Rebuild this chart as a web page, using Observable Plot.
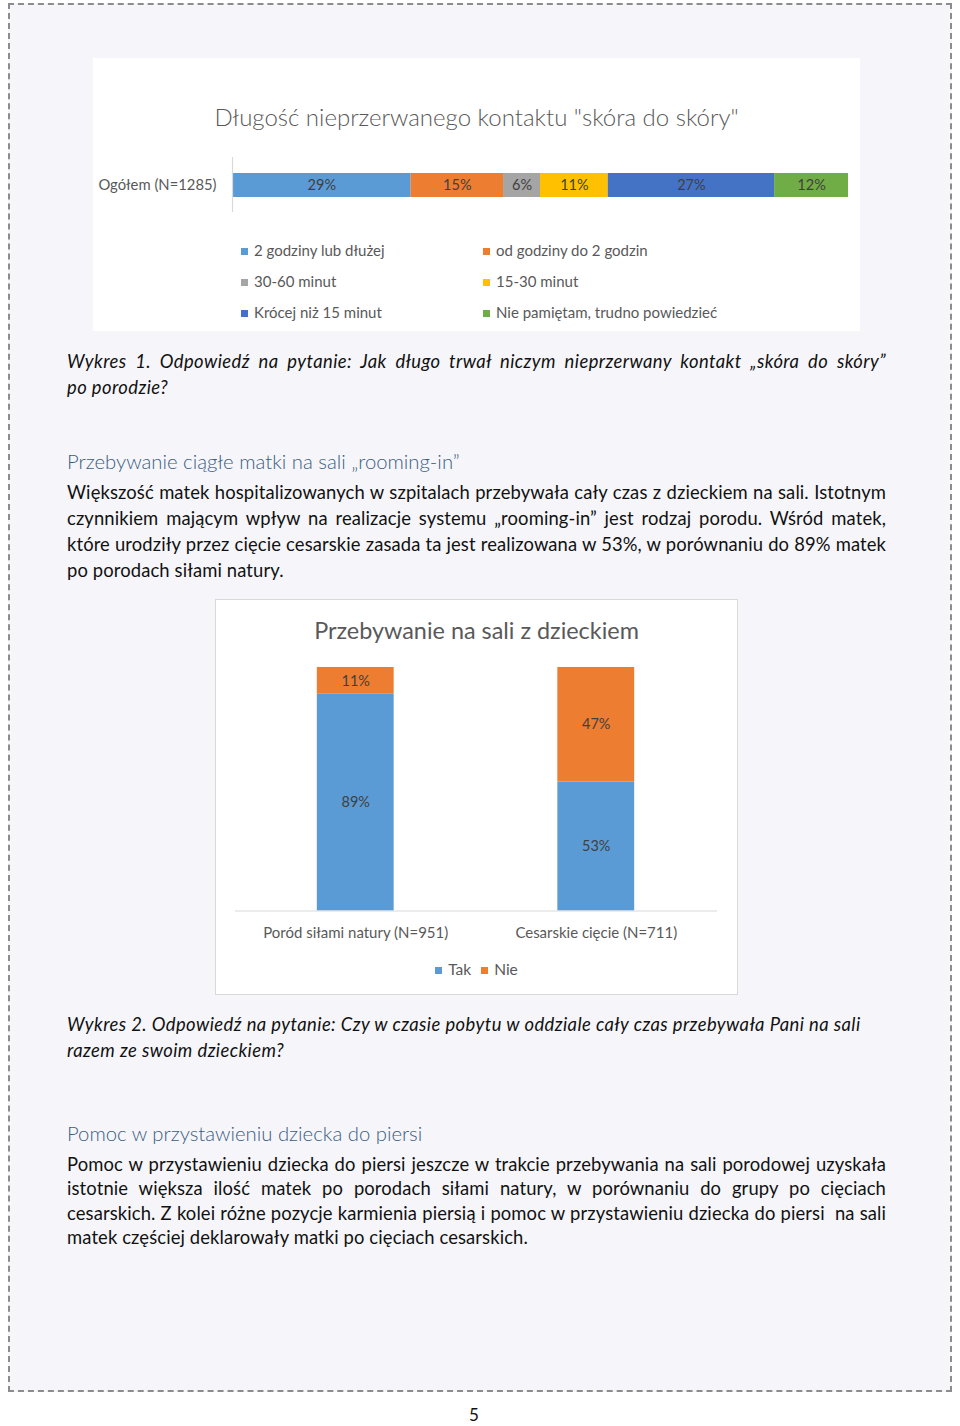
<!DOCTYPE html>
<html lang="pl">
<head>
<meta charset="utf-8">
<script src="https://cdn.jsdelivr.net/npm/d3@7"></script>
<script src="https://cdn.jsdelivr.net/npm/@observablehq/plot@0.6"></script>
<style>
  html, body { margin: 0; padding: 0; background: #ffffff; }
  #page { position: relative; width: 960px; height: 1426px; overflow: hidden; font-family: Lato, "Open Sans", sans-serif; }
  #frame { position: absolute; left: 8px; top: 3px; width: 940px; height: 1385px; border: 2px dashed #8c8c8c; background: #f6f6fa; }
  .box { position: absolute; background: #ffffff; }
  .title { position: absolute; left: 0; right: 0; text-align: center; color: #595959; white-space: nowrap; }
  .text { position: absolute; left: 67px; width: 819px; color: #111111; font-size: 18.4px; letter-spacing: 0.12px; }
  .text div { white-space: nowrap; text-align: justify; text-align-last: justify; }
  .text div.last { text-align-last: left; }
  .text.italic { font-style: italic; letter-spacing: 0.42px; }
  .heading { position: absolute; left: 67px; color: #3a5d82; font-size: 20.3px; font-weight: 300; white-space: nowrap; }
  .legend { position: absolute; color: #595959; font-size: 15px; white-space: nowrap; }
  .legend .sw { display: inline-block; width: 7px; height: 7px; margin-right: 6px; vertical-align: 1px; }
  #pagenum { position: absolute; left: 0; width: 948px; top: 1404px; text-align: center; font-size: 17px; color: #111; }
</style>
</head>
<body>
<div id="page">
  <div id="frame"></div>

  <div class="box" id="chart1" style="left:93px; top:58px; width:767px; height:273px;">
    <div class="title" id="title1" style="top:44px; font-size:24px; font-weight:300;"></div>
    <div id="plot1" style="position:absolute; left:0; top:89px;"></div>
    <div id="legend1"></div>
  </div>

  <div class="text italic" style="top:348px; line-height:26px;">
    <div>Wykres 1. Odpowiedź na pytanie: Jak długo trwał niczym nieprzerwany kontakt „skóra do skóry”</div>
    <div class="last">po porodzie?</div>
  </div>

  <div class="heading" style="top:448px; line-height:26px;">Przebywanie ciągłe matki na sali „rooming-in”</div>

  <div class="text" style="top:479px; line-height:26px;">
    <div>Większość matek hospitalizowanych w szpitalach przebywała cały czas z dzieckiem na sali. Istotnym</div>
    <div>czynnikiem mającym wpływ na realizacje systemu „rooming-in” jest rodzaj porodu. Wśród matek,</div>
    <div>które urodziły przez cięcie cesarskie zasada ta jest realizowana w 53%, w porównaniu do 89% matek</div>
    <div class="last">po porodach siłami natury.</div>
  </div>

  <div class="box" id="chart2" style="left:215px; top:599px; width:521px; height:394px; border:1px solid #d9d9d9;">
    <div class="title" id="title2" style="top:16px; font-size:23.4px;"></div>
    <div id="plot2" style="position:absolute; left:-1px; top:55px;"></div>
    <div id="legend2"></div>
  </div>

  <div class="text italic" style="top:1011px; line-height:26px;">
    <div class="last">Wykres 2. Odpowiedź na pytanie: Czy w czasie pobytu w oddziale cały czas przebywała Pani na sali</div>
    <div class="last">razem ze swoim dzieckiem?</div>
  </div>

  <div class="heading" style="top:1120px; line-height:26px;">Pomoc w przystawieniu dziecka do piersi</div>

  <div class="text" style="top:1152px; line-height:24.4px;">
    <div>Pomoc w przystawieniu dziecka do piersi jeszcze w trakcie przebywania na sali porodowej uzyskała</div>
    <div>istotnie większa ilość matek po porodach siłami natury, w porównaniu do grupy po cięciach</div>
    <div>cesarskich. Z kolei różne pozycje karmienia piersią i pomoc w przystawieniu dziecka do piersi&nbsp; na sali</div>
    <div class="last">matek częściej deklarowały matki po cięciach cesarskich.</div>
  </div>

  <div id="pagenum">5</div>
</div>

<script>
// ---------- Data ----------
const chart1Title = "Długość nieprzerwanego kontaktu \"skóra do skóry\"";
const chart1Category = "Ogółem (N=1285)";
const chart1Series = [
  "2 godziny lub dłużej",
  "od godziny do 2 godzin",
  "30-60 minut",
  "15-30 minut",
  "Krócej niż 15 minut",
  "Nie pamiętam, trudno powiedzieć"
];
const chart1Values = [29, 15, 6, 11, 27, 12];

const chart2Title = "Przebywanie na sali z dzieckiem";
const chart2Categories = ["Poród siłami natury (N=951)", "Cesarskie cięcie (N=711)"];
const chart2Series = ["Tak", "Nie"];
const chart2Tak = [89, 53];
const chart2Nie = [11, 47];

// ---------- Styles ----------
const palette1 = ["#5b9bd5", "#ed7d31", "#a5a5a5", "#ffc000", "#4472c4", "#70ad47"];
const palette2 = ["#5b9bd5", "#ed7d31"];
const fontFamily = "Lato, 'Open Sans', sans-serif";

// ---------- Chart 1 ----------
document.getElementById("title1").textContent = chart1Title;
const rows1 = chart1Series.map((s, i) => ({cat: chart1Category, series: s, value: chart1Values[i]}));

const plot1 = Plot.plot({
  width: 767,
  height: 75,
  marginLeft: 139,
  marginRight: 12,
  marginTop: 10,
  marginBottom: 10,
  style: {fontFamily, fontSize: "14.8px", background: "transparent"},
  x: {domain: [0, 100], axis: null},
  y: {domain: [chart1Category], padding: 0.39, label: null},
  color: {domain: chart1Series, range: palette1},
  marks: [
    Plot.barX(rows1, Plot.stackX({x: "value", y: "cat", fill: "series", order: null})),
    Plot.text(rows1, Plot.stackX({x: "value", y: "cat", z: "series", order: null, text: d => d.value + "%", fill: "#404040", fontSize: 14.5})),
    Plot.ruleX([0], {stroke: "#d9d9d9", strokeWidth: 1.2}),
    Plot.axisY({tickSize: 0, tickPadding: 16, color: "#595959", fontSize: 14.8, label: null})
  ]
});
document.getElementById("plot1").appendChild(plot1);

// legend 1 (two columns, three rows)
const legend1 = document.getElementById("legend1");
chart1Series.forEach((s, i) => {
  const col = i % 2, row = Math.floor(i / 2);
  const item = document.createElement("div");
  item.className = "legend";
  item.style.left = (col === 0 ? 148 : 390) + "px";
  item.style.top = (183 + row * 31) + "px";
  item.innerHTML = `<span class="sw" style="background:${palette1[i]}"></span>`;
  item.appendChild(document.createTextNode(s));
  legend1.appendChild(item);
});

// ---------- Chart 2 ----------
document.getElementById("title2").textContent = chart2Title;
const rows2 = [];
chart2Categories.forEach((c, i) => {
  rows2.push({cat: c, series: chart2Series[0], value: chart2Tak[i]});
  rows2.push({cat: c, series: chart2Series[1], value: chart2Nie[i]});
});

const plot2 = Plot.plot({
  width: 523,
  height: 295,
  marginLeft: 20,
  marginRight: 20,
  marginTop: 12,
  marginBottom: 39,
  style: {fontFamily, fontSize: "15px", background: "transparent"},
  x: {domain: chart2Categories, paddingInner: 0.68, paddingOuter: 0.34, label: null},
  y: {domain: [0, 100], axis: null},
  color: {domain: chart2Series, range: palette2},
  marks: [
    Plot.barY(rows2, Plot.stackY({x: "cat", y: "value", fill: "series", order: null})),
    Plot.text(rows2, Plot.stackY({x: "cat", y: "value", z: "series", order: null, text: d => d.value + "%", fill: "#404040", fontSize: 14.5})),
    Plot.ruleY([0], {stroke: "#d9d9d9", strokeWidth: 1.2}),
    Plot.axisX({tickSize: 0, tickPadding: 16, color: "#595959", fontSize: 15, label: null})
  ]
});
document.getElementById("plot2").appendChild(plot2);

// legend 2 (single centered row)
const legend2 = document.createElement("div");
legend2.className = "legend";
legend2.style.left = "0";
legend2.style.right = "0";
legend2.style.textAlign = "center";
legend2.style.top = "360px";
legend2.style.fontSize = "15.5px";
chart2Series.forEach((s, i) => {
  const span = document.createElement("span");
  span.style.marginRight = i < chart2Series.length - 1 ? "10px" : "0";
  span.innerHTML = `<span class="sw" style="background:${palette2[i]}"></span>`;
  span.appendChild(document.createTextNode(s));
  legend2.appendChild(span);
});
document.getElementById("legend2").appendChild(legend2);
</script>
</body>
</html>
